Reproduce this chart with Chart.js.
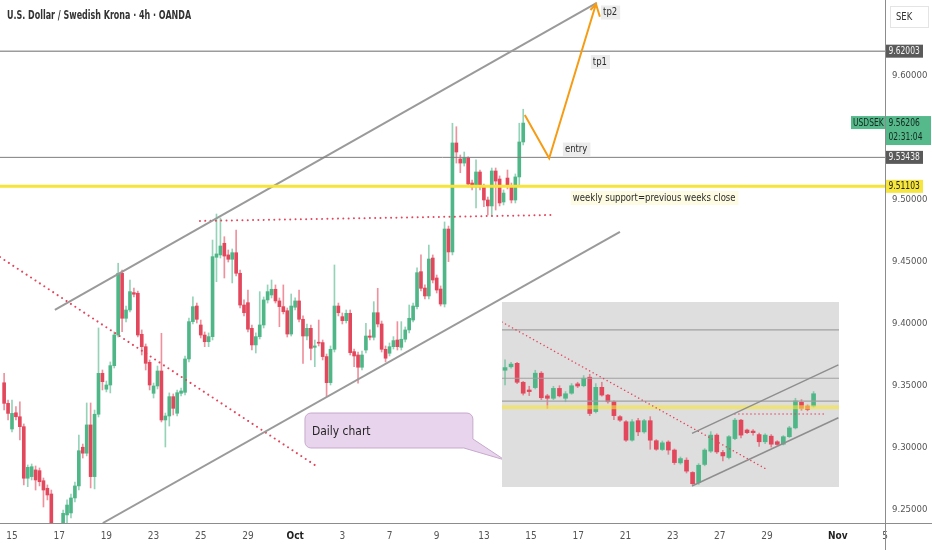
<!DOCTYPE html>
<html>
<head>
<meta charset="utf-8">
<script src="https://cdn.jsdelivr.net/npm/chart.js@4.4.1/dist/chart.umd.min.js"></script>
<style>
  html, body { margin: 0; padding: 0; background: #fff; }
  #wrap { position: relative; width: 932px; height: 550px; overflow: hidden; }
  #main { position: absolute; left: 0; top: 0; width: 932px; height: 550px; }
  #inset { position: absolute; left: 502px; top: 302px; width: 337px; height: 185px; background: #dedede; }
</style>
</head>
<body>
<div id="wrap">
  <div id="main"><canvas id="price-chart"></canvas></div>
  <div id="inset"><canvas id="daily-chart"></canvas></div>
</div>
<script>
// 4h candles, bar index starts at firstBar (bar 0 = Sep 15 session)
const firstBar = -2;
const openPrices = [
  9.3526, 9.3360, 9.3153, 9.3284, 9.3252, 9.3172, 9.2756, 9.2769, 9.2823, 9.2817,
  9.2736, 9.2675, 9.2629, 9.2339, 9.2258, 9.2379, 9.2460, 9.2476, 9.2597, 9.2694,
  9.3006, 9.2958, 9.3186, 9.2769, 9.3272, 9.3602, 9.3474, 9.3508, 9.3664, 9.3911,
  9.4409, 9.4046, 9.4113, 9.4253, 9.4248, 9.3917, 9.3817, 9.3691, 9.3441, 9.3500,
  9.3621, 9.3226, 9.3258, 9.3414, 9.3280, 9.3441, 9.3449, 9.3718, 9.4019, 9.4145,
  9.3992, 9.3911, 9.3857, 9.3898, 9.4538, 9.4557, 9.4651, 9.4557, 9.4522, 9.4575,
  9.4409, 9.4153, 9.4172, 9.3965, 9.3831, 9.3898, 9.3992, 9.4194, 9.4234, 9.4280,
  9.4186, 9.4140, 9.4107, 9.3919, 9.4135, 9.4186, 9.4038, 9.3903, 9.3965, 9.3812,
  9.3853, 9.3850, 9.3737, 9.3527, 9.3796, 9.4145, 9.4059, 9.4027, 9.4086, 9.3777,
  9.3750, 9.3651, 9.3790, 9.3903, 9.3893, 9.4091, 9.4000, 9.3796, 9.3764, 9.3817,
  9.3871, 9.3812, 9.3877, 9.3952, 9.4032, 9.4140, 9.4422, 9.4290, 9.4226, 9.4532,
  9.4371, 9.4282, 9.4161, 9.4766, 9.4581, 9.5460, 9.5331, 9.5298, 9.5339, 9.5137,
  9.5105, 9.5226, 9.5105, 9.5000, 9.4952, 9.5234, 9.5169, 9.4984, 9.5177, 9.5113,
  9.5000, 9.5186, 9.5468
];
const highPrices = [
  9.3602, 9.3387, 9.3387, 9.3333, 9.3373, 9.3194, 9.2863, 9.2871, 9.2855, 9.2839,
  9.2758, 9.2702, 9.2661, 9.2379, 9.2387, 9.2500, 9.2581, 9.2629, 9.2726, 9.3105,
  9.3032, 9.3363, 9.3363, 9.3306, 9.3968, 9.3629, 9.3540, 9.3694, 9.3936, 9.4490,
  9.4435, 9.4145, 9.4355, 9.4290, 9.4266, 9.3952, 9.3839, 9.3710, 9.3524, 9.3661,
  9.3925, 9.3282, 9.3444, 9.3436, 9.3468, 9.3484, 9.3742, 9.4048, 9.4220, 9.4169,
  9.4032, 9.3936, 9.3928, 9.4677, 9.4887, 9.4855, 9.4704, 9.4597, 9.4605, 9.4758,
  9.4435, 9.4194, 9.4274, 9.3992, 9.3928, 9.4261, 9.4218, 9.4315, 9.4355, 9.4315,
  9.4210, 9.4315, 9.4129, 9.4242, 9.4210, 9.4274, 9.4065, 9.4000, 9.3992, 9.3871,
  9.4032, 9.3871, 9.3758, 9.3823, 9.4476, 9.4169, 9.4089, 9.4113, 9.4113, 9.3798,
  9.3774, 9.3782, 9.4006, 9.3952, 9.4180, 9.4288, 9.4024, 9.3823, 9.3847, 9.3898,
  9.4019, 9.4019, 9.3976, 9.4153, 9.4169, 9.4452, 9.4557, 9.4315, 9.4637, 9.4557,
  9.4395, 9.4307, 9.4823, 9.4790, 9.5619, 9.5591, 9.5363, 9.5387, 9.5349, 9.5161,
  9.5323, 9.5242, 9.5129, 9.5024, 9.5258, 9.5258, 9.5194, 9.5081, 9.5242, 9.5137,
  9.5210, 9.5619, 9.5732
];
const lowPrices = [
  9.3306, 9.3226, 9.3129, 9.3226, 9.3065, 9.2702, 9.2688, 9.2742, 9.2661, 9.2694,
  9.2524, 9.2581, 9.2298, 9.2194, 9.2218, 9.2339, 9.2371, 9.2436, 9.2565, 9.2661,
  9.2919, 9.2936, 9.2678, 9.2670, 9.3250, 9.3468, 9.3452, 9.3444, 9.3645, 9.3895,
  9.3938, 9.4016, 9.4097, 9.4218, 9.3895, 9.3750, 9.3629, 9.3468, 9.3403, 9.3476,
  9.3210, 9.3008, 9.3177, 9.3266, 9.3258, 9.3419, 9.3428, 9.3694, 9.4000, 9.4008,
  9.3887, 9.3817, 9.3817, 9.3871, 9.4341, 9.4532, 9.4371, 9.4500, 9.4331, 9.4387,
  9.4129, 9.4065, 9.3936, 9.3790, 9.3766, 9.3879, 9.3968, 9.4169, 9.4210, 9.4169,
  9.3978, 9.4081, 9.3895, 9.3903, 9.4113, 9.4016, 9.3683, 9.3871, 9.3710, 9.3656,
  9.3823, 9.3710, 9.3414, 9.3508, 9.3774, 9.4065, 9.4000, 9.4008, 9.3750, 9.3656,
  9.3522, 9.3629, 9.3766, 9.3871, 9.3871, 9.3976, 9.3774, 9.3694, 9.3742, 9.3798,
  9.3790, 9.3790, 9.3855, 9.3928, 9.4016, 9.4121, 9.4266, 9.4202, 9.4202, 9.4331,
  9.4250, 9.4145, 9.4137, 9.4503, 9.4557, 9.5298, 9.5220, 9.5274, 9.5105, 9.5081,
  9.4936, 9.5081, 9.4946, 9.4879, 9.4871, 9.4919, 9.4952, 9.4960, 9.5089, 9.4976,
  9.4976, 9.5121, 9.5444
];
const closePrices = [
  9.3360, 9.3279, 9.3279, 9.3252, 9.3172, 9.2756, 9.2844, 9.2849, 9.2742, 9.2728,
  9.2661, 9.2621, 9.2339, 9.2258, 9.2355, 9.2473, 9.2540, 9.2597, 9.2694, 9.2978,
  9.2958, 9.3186, 9.2769, 9.3272, 9.3602, 9.3535, 9.3508, 9.3664, 9.3911, 9.4409,
  9.4046, 9.4113, 9.4261, 9.4240, 9.3911, 9.3817, 9.3683, 9.3508, 9.3500, 9.3621,
  9.3226, 9.3258, 9.3414, 9.3320, 9.3446, 9.3460, 9.3718, 9.4019, 9.4140, 9.4038,
  9.3911, 9.3857, 9.3898, 9.4543, 9.4565, 9.4629, 9.4548, 9.4522, 9.4575, 9.4409,
  9.4153, 9.4091, 9.3958, 9.3831, 9.3898, 9.3992, 9.4194, 9.4261, 9.4280, 9.4186,
  9.4140, 9.4099, 9.3919, 9.4145, 9.4186, 9.4038, 9.3903, 9.3965, 9.3804, 9.3823,
  9.3845, 9.3737, 9.3527, 9.3796, 9.4145, 9.4091, 9.4027, 9.4086, 9.3769, 9.3742,
  9.3651, 9.3750, 9.3903, 9.3893, 9.4091, 9.4000, 9.3796, 9.3724, 9.3817, 9.3866,
  9.3817, 9.3877, 9.3952, 9.4046, 9.4145, 9.4414, 9.4288, 9.4226, 9.4524, 9.4355,
  9.4274, 9.4161, 9.4766, 9.4581, 9.5460, 9.5387, 9.5298, 9.5339, 9.5129, 9.5105,
  9.5226, 9.5105, 9.5000, 9.4952, 9.5234, 9.5153, 9.4976, 9.5056, 9.5113, 9.5000,
  9.5186, 9.5468, 9.56206
];

const xTickBars = [0, 12, 24, 36, 48, 60, 72, 84, 96, 108, 120, 132, 144, 156, 168, 180, 192, 210, 222];
const xTickLabels = ['15', '17', '19', '23', '25', '29', 'Oct', '3', '7', '9', '13', '15', '17', '21', '23', '27', '29', 'Nov', '5'];
const monthLabels = ['Oct', 'Nov'];
const priceTicks = [9.25, 9.30, 9.35, 9.40, 9.45, 9.50, 9.55, 9.60];

// drawings on the 4h chart, as [bar, price]
const levelPrices = [9.62003, 9.53438];
const supportPrice = 9.51103;
const upperChannel = [[10.9, 9.4113], [148.7, 9.6589]];
const lowerChannel = [[23.1, 9.2395], [154.6, 9.4742]];
const fallingLine = [[-3.05, 9.4540], [77.0, 9.2863]];
const necklineDots = [[47.8, 9.4831], [137.3, 9.4879]];
const tradePath = [[130.4, 9.5686], [136.6, 9.5336], [148.5, 9.6581]];
const arrowHead = [[147.1, 9.6532], [148.5, 9.6581], [149.5, 9.6478]];

const noteTexts = ['tp2', 'tp1', 'entry', 'weekly support=previous weeks close'];
const noteAnchors = [[150.3, 9.6512], [147.7, 9.6113], [140.6, 9.5407], [142.6, 9.5016]];

const calloutText = 'Daily chart';
const calloutBox = [[74.5, 9.3282], [117.2, 9.3000]];
const calloutTip = [125.3, 9.2903];

// daily candles in the inset
const dailyOpen = [
  9.650, 9.663, 9.676, 9.605, 9.576, 9.585, 9.639, 9.554, 9.545, 9.582,
  9.545, 9.564, 9.599, 9.592, 9.624, 9.495, 9.586, 9.557, 9.532, 9.476,
  9.457, 9.388, 9.461, 9.419, 9.461, 9.386, 9.353, 9.381, 9.351, 9.303,
  9.313, 9.267, 9.229, 9.297, 9.347, 9.407, 9.342, 9.323, 9.394, 9.463,
  9.426, 9.422, 9.409, 9.382, 9.403, 9.382, 9.373, 9.401, 9.434, 9.530,
  9.516, 9.516
];
const dailyHigh = [
  9.689, 9.680, 9.680, 9.608, 9.590, 9.650, 9.645, 9.560, 9.590, 9.592,
  9.570, 9.600, 9.605, 9.630, 9.635, 9.600, 9.605, 9.560, 9.535, 9.480,
  9.461, 9.465, 9.470, 9.466, 9.476, 9.390, 9.385, 9.386, 9.355, 9.325,
  9.322, 9.270, 9.300, 9.356, 9.420, 9.412, 9.350, 9.405, 9.470, 9.466,
  9.430, 9.428, 9.415, 9.412, 9.409, 9.386, 9.405, 9.440, 9.545, 9.540,
  9.520, 9.570
];
const dailyLow = [
  9.595, 9.658, 9.600, 9.557, 9.555, 9.580, 9.540, 9.507, 9.540, 9.550,
  9.532, 9.560, 9.585, 9.588, 9.480, 9.490, 9.553, 9.527, 9.465, 9.458,
  9.383, 9.384, 9.405, 9.414, 9.354, 9.350, 9.349, 9.335, 9.297, 9.298,
  9.265, 9.221, 9.222, 9.292, 9.342, 9.338, 9.310, 9.318, 9.390, 9.396,
  9.412, 9.407, 9.365, 9.375, 9.362, 9.368, 9.370, 9.398, 9.430, 9.500,
  9.498, 9.512
];
const dailyClose = [
  9.660, 9.673, 9.605, 9.564, 9.570, 9.639, 9.547, 9.545, 9.582, 9.554,
  9.562, 9.592, 9.591, 9.620, 9.488, 9.586, 9.557, 9.532, 9.480, 9.463,
  9.388, 9.457, 9.419, 9.461, 9.388, 9.354, 9.378, 9.351, 9.304, 9.319,
  9.272, 9.225, 9.294, 9.351, 9.407, 9.344, 9.329, 9.401, 9.463, 9.407,
  9.416, 9.416, 9.382, 9.407, 9.373, 9.372, 9.401, 9.434, 9.535, 9.507,
  9.503, 9.562
];
const dailyLevels = [9.8016, 9.62003, 9.53438];
const dailyFalling = [[-0.5, 9.8305], [43.0, 9.2817]];
const dailyUpper = [[30.9, 9.4133], [55.1, 9.6700]];
const dailyLower = [[30.9, 9.2163], [55.1, 9.4719]];
const dailyDots = [[38.0, 9.4858], [52.6, 9.4858]];

const uiFont = '"Liberation Sans Narrow", "DejaVu Sans Condensed", "Liberation Sans", sans-serif';
const upColor = '#4fb688';
const downColor = '#e2475c';
const upWick = 'rgba(79,182,136,0.6)';
const downWick = 'rgba(226,71,92,0.6)';
const redDots = '#e5455c';
const channelGrey = '#9a9a9a';

Chart.defaults.font.family = uiFont;
Chart.defaults.animation = false;

function candleSets(first, o, h, l, c, bodyWidth) {
    const up = o.map((v, k) => c[k] >= v);
    return [
        {
            type: 'bar',
            data: o.map((v, k) => ({ x: first + k, y: [l[k], h[k]] })),
            backgroundColor: up.map(u => u ? upWick : downWick),
            barThickness: 1,
            grouped: false,
            order: 20
        },
        {
            type: 'bar',
            data: o.map((v, k) => ({ x: first + k, y: [v, c[k]] })),
            backgroundColor: up.map(u => u ? upColor : downColor),
            barThickness: bodyWidth,
            minBarLength: 1,
            grouped: false,
            order: 19
        }
    ];
}

function lineSet(pairs, color, width, dash, order) {
    return {
        type: 'line',
        data: pairs.map(([x, y]) => ({ x, y })),
        borderColor: color,
        borderWidth: width,
        borderDash: dash || [],
        borderCapStyle: dash ? 'round' : 'butt',
        pointRadius: 0,
        fill: false,
        tension: 0,
        order
    };
}

// text drawn a little narrower, like the screenshot's squeezed UI font
function squeezed(ctx, text, x, y, sx) {
    ctx.save();
    ctx.translate(x, y);
    ctx.scale(sx, 1);
    ctx.fillText(text, 0, 0);
    ctx.restore();
}

const xScaleMin = -3.05, xScaleMax = 222;
const yScaleMin = 9.2395, yScaleMax = 9.6613;

function noteBox(ctx, text, px, py, fill) {
    ctx.font = '11px ' + uiFont;
    const w = ctx.measureText(text).width * 0.86;
    ctx.fillStyle = fill;
    ctx.fillRect(px - 2, py - 7, w + 5, 14);
    ctx.fillStyle = '#2b2b2b';
    squeezed(ctx, text, px, py, 0.86);
}

const overlayPlugin = {
    id: 'overlay',
    afterDraw(chart) {
        const { ctx, chartArea: area, scales } = chart;
        const xs = scales.x, ys = scales.y;
        const px = v => xs.getPixelForValue(v);
        const py = v => ys.getPixelForValue(v);
        ctx.save();
        ctx.textBaseline = 'middle';
        ctx.textAlign = 'left';

        // axis borders
        ctx.strokeStyle = '#8c8c8c';
        ctx.lineWidth = 1;
        ctx.beginPath();
        ctx.moveTo(Math.round(area.right) + 0.5, 0);
        ctx.lineTo(Math.round(area.right) + 0.5, chart.height);
        ctx.moveTo(0, Math.round(area.bottom) + 0.5);
        ctx.lineTo(chart.width, Math.round(area.bottom) + 0.5);
        ctx.stroke();

        // title
        ctx.font = '600 12px ' + uiFont;
        ctx.fillStyle = '#333';
        squeezed(ctx, 'U.S. Dollar / Swedish Krona · 4h · OANDA', 7, 16, 0.74);

        // currency box
        ctx.fillStyle = '#fff';
        ctx.strokeStyle = '#e4e4e4';
        ctx.fillRect(890.5, 6.5, 38, 21);
        ctx.strokeRect(890.5, 6.5, 38, 21);
        ctx.font = '11px ' + uiFont;
        ctx.fillStyle = '#333';
        squeezed(ctx, 'SEK', 896, 17, 0.85);

        // price tags on the axis
        const tagLeft = area.right + 1;
        ctx.font = '10.5px ' + uiFont;
        levelPrices.forEach(v => {
            const y = py(v);
            ctx.fillStyle = '#5a5a5a';
            ctx.fillRect(tagLeft, y - 6.5, 37, 13);
            ctx.fillStyle = '#f4f4f4';
            squeezed(ctx, v.toFixed(5), tagLeft + 2.5, y, 0.8);
        });
        const ys0 = py(supportPrice);
        ctx.fillStyle = '#f6e53c';
        ctx.fillRect(tagLeft, ys0 - 6.5, 37, 13);
        ctx.fillStyle = '#222';
        squeezed(ctx, supportPrice.toFixed(5), tagLeft + 2.5, ys0, 0.8);

        const last = closePrices[closePrices.length - 1];
        const yl = py(last);
        ctx.fillStyle = '#55b98c';
        ctx.fillRect(tagLeft, yl - 7, 45, 29);
        ctx.fillRect(area.right - 34, yl - 7, 34, 13);
        ctx.fillStyle = '#12291d';
        squeezed(ctx, last.toFixed(5), tagLeft + 2.5, yl, 0.8);
        squeezed(ctx, '02:31:04', tagLeft + 2.5, yl + 14, 0.8);
        squeezed(ctx, 'USDSEK', area.right - 32, yl, 0.8);

        // trade notes
        const fills = ['#ececec', '#ececec', '#ececec', '#fdfbe2'];
        noteTexts.forEach((t, k) => {
            noteBox(ctx, t, px(noteAnchors[k][0]), py(noteAnchors[k][1]), fills[k]);
        });

        // callout
        const L = px(calloutBox[0][0]), T = py(calloutBox[0][1]);
        const R = px(calloutBox[1][0]), B = py(calloutBox[1][1]);
        const tx = px(calloutTip[0]), ty = py(calloutTip[1]);
        const r = 6;
        ctx.beginPath();
        ctx.moveTo(L + r, T);
        ctx.lineTo(R - r, T);
        ctx.arcTo(R, T, R, T + r, r);
        ctx.lineTo(R, B - 9);
        ctx.lineTo(tx, ty);
        ctx.lineTo(R - 9, B);
        ctx.lineTo(L + r, B);
        ctx.arcTo(L, B, L, B - r, r);
        ctx.lineTo(L, T + r);
        ctx.arcTo(L, T, L + r, T, r);
        ctx.closePath();
        ctx.fillStyle = '#e9d4ed';
        ctx.fill();
        ctx.strokeStyle = '#c6a9cb';
        ctx.lineWidth = 1;
        ctx.stroke();
        ctx.font = '13px ' + uiFont;
        ctx.fillStyle = '#1f1f1f';
        squeezed(ctx, calloutText, L + 7, (T + B) / 2 + 1, 0.92);

        ctx.restore();
    }
};

const mainCtx = document.getElementById('price-chart').getContext('2d');

new Chart(mainCtx, {
    type: 'bar',
    data: {
        datasets: [
            lineSet(tradePath, '#f59c14', 2, null, 1),
            lineSet(arrowHead, '#f59c14', 2, null, 1),
            lineSet([[xScaleMin, supportPrice], [xScaleMax, supportPrice]], '#f6e43a', 3, null, 2),
            lineSet([[xScaleMin, levelPrices[0]], [xScaleMax, levelPrices[0]]], '#9c9c9c', 1.5, null, 3),
            lineSet([[xScaleMin, levelPrices[1]], [xScaleMax, levelPrices[1]]], '#7d7d7d', 1, null, 3),
            lineSet(upperChannel, channelGrey, 2, null, 4),
            lineSet(lowerChannel, channelGrey, 2, null, 4),
            lineSet(fallingLine, redDots, 2, [0.01, 5.3], 5),
            lineSet(necklineDots, redDots, 2, [0.01, 5.3], 5),
            ...candleSets(firstBar, openPrices, highPrices, lowPrices, closePrices, 3)
        ]
    },
    options: {
        responsive: true,
        maintainAspectRatio: false,
        events: [],
        layout: { padding: 0 },
        plugins: {
            legend: { display: false },
            tooltip: { enabled: false }
        },
        scales: {
            x: {
                type: 'linear',
                min: xScaleMin,
                max: xScaleMax,
                offset: false,
                afterBuildTicks: s => { s.ticks = xTickBars.map(value => ({ value })); },
                afterFit: s => { s.height = 27; s.paddingLeft = 0; s.paddingRight = 0; },
                grid: { display: false, drawTicks: false },
                border: { display: false },
                ticks: {
                    autoSkip: false,
                    maxRotation: 0,
                    padding: 7,
                    color: c => monthLabels.includes(xTickLabels[c.index]) ? '#222' : '#555',
                    font: c => ({
                        family: uiFont,
                        size: 10,
                        weight: monthLabels.includes(xTickLabels[c.index]) ? '600' : '400'
                    }),
                    callback: (v, i) => xTickLabels[i]
                }
            },
            y: {
                position: 'right',
                min: yScaleMin,
                max: yScaleMax,
                beginAtZero: false,
                afterBuildTicks: s => { s.ticks = priceTicks.map(value => ({ value })); },
                afterFit: s => { s.width = 47; s.paddingTop = 0; s.paddingBottom = 0; },
                grid: { display: false, drawTicks: false },
                border: { display: false },
                ticks: {
                    padding: 7,
                    color: '#555',
                    font: { family: uiFont, size: 9.5 },
                    callback: v => v.toFixed(5)
                }
            }
        }
    },
    plugins: [overlayPlugin]
});

const dailyCtx = document.getElementById('daily-chart').getContext('2d');

new Chart(dailyCtx, {
    type: 'bar',
    data: {
        datasets: [
            lineSet(dailyUpper, '#8e8e8e', 1.5, null, 1),
            lineSet(dailyLower, '#8e8e8e', 1.5, null, 1),
            lineSet(dailyFalling, redDots, 1.5, [0.01, 4], 2),
            lineSet(dailyDots, redDots, 1.5, [0.01, 4], 2),
            lineSet([[-0.5, supportPrice], [55.2, supportPrice]], 'rgba(246,228,58,0.6)', 4, null, 3),
            ...dailyLevels.map(v => lineSet([[-0.5, v], [55.2, v]], '#a0a0a0', 1.2, null, 4)),
            ...candleSets(0, dailyOpen, dailyHigh, dailyLow, dailyClose, 4)
        ]
    },
    options: {
        responsive: true,
        maintainAspectRatio: false,
        events: [],
        layout: { padding: 0 },
        plugins: {
            legend: { display: false },
            tooltip: { enabled: false }
        },
        scales: {
            x: { type: 'linear', min: -0.5, max: 55.2, offset: false, display: false },
            y: { min: 9.2125, max: 9.9058, beginAtZero: false, display: false }
        }
    }
});
</script>
</body>
</html>
